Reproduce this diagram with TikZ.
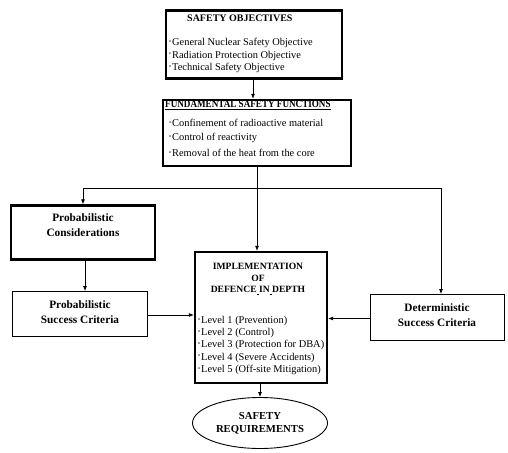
\documentclass[tikz,border=0pt]{standalone}
\usepackage{fontspec}
\setmainfont{Liberation Serif}
\usetikzlibrary{arrows.meta,shapes.geometric}
\newcommand\bul{\raisebox{0.05ex}{\scalebox{1.15}{·}}}
\begin{document}
\begin{tikzpicture}[x=1pt,y=-1pt,
  box/.style={draw,rectangle,inner sep=0pt},
  heavy/.style={line width=2.3pt},
  light/.style={line width=0.9pt},
  txt/.style={font=\fontsize{10.4}{12}\selectfont,inner sep=0pt,anchor=west},
  ttl/.style={font=\fontsize{10}{12}\selectfont\bfseries,inner sep=0pt},
  ctr/.style={font=\fontsize{11.3}{15}\selectfont\bfseries,inner sep=0pt,align=center},
  arr/.style={-{Latex[length=5pt,width=4pt]},line width=0.8pt},
  ln/.style={line width=0.8pt}]
\useasboundingbox (0,0) rectangle (508,452);
% boxes
\node[box,heavy,minimum width=176,minimum height=68] (so) at (254,44.5) {};
\node[box,heavy,minimum width=188,minimum height=66] (fsf) at (257,133) {};
\node[box,heavy,minimum width=144,minimum height=54] (pc) at (83,232.5) {};
\node[box,light,minimum width=135,minimum height=45] (psc) at (80,314) {};
\node[box,heavy,minimum width=132,minimum height=131] (impl) at (261,317.5) {};
\node[box,light,minimum width=134,minimum height=46] (det) at (437,317.5) {};
\node[draw,ellipse,light,minimum width=135,minimum height=51,inner sep=0pt,
      font=\fontsize{10.7}{13}\selectfont\bfseries,align=center] (sr) at (260,423) {SAFETY\\REQUIREMENTS};
% texts
\node[ttl,anchor=west] (sot) at (187,18) {SAFETY OBJECTIVES};
\node[txt] (so1) at (168,43) {\bul General Nuclear Safety Objective};
\node[txt] (so2) at (168,55.5) {\bul Radiation Protection Objective};
\node[txt] (so3) at (168,68) {\bul Technical Safety Objective};
\node[ttl,anchor=west,font=\fontsize{10.6}{12}\selectfont\bfseries] (fsft) at (165,105) {\scalebox{0.86}[1]{\underline{FUNDAMENTAL SAFETY FUNCTIONS}}};
\node[txt] (f1) at (168,123) {\bul Confinement of radioactive material};
\node[txt] (f2) at (168,138) {\bul Control of reactivity};
\node[txt] (f3) at (168,153) {\bul Removal of the heat from the core};
\node[ctr] (pct) at (83,225) {Probabilistic\\Considerations};
\node[ctr] (psct) at (80,312) {Probabilistic\\Success Criteria};
\node[ctr] (dett) at (437,315) {Deterministic\\Success Criteria};
\node[font=\fontsize{9.6}{11.5}\selectfont\bfseries,inner sep=0pt,align=center] (implt) at (258,279)
  {IMPLEMENTATION\\OF\\DEFENCE\underline{\ }IN\underline{\ }DEPTH};
\node[txt] (l1) at (197,321) {\bul Level 1 (Prevention)};
\node[txt] (l2) at (197,333.2) {\bul Level 2 (Control)};
\node[txt] (l3) at (197,345.4) {\bul Level 3 (Protection for DBA)};
\node[txt] (l4) at (197,357.6) {\bul Level 4 (Severe Accidents)};
\node[txt] (l5) at (197,369.8) {\bul Level 5 (Off-site Mitigation)};
% connectors
\coordinate (j) at (257,188);
\draw[arr] ([xshift=-1pt]so.south) -- ([xshift=-1pt]so.south |- fsf.north);
\draw[arr] (fsf.south) -- (fsf.south |- impl.north);
\draw[arr] (j) -| (pc.north);
\draw[arr] (j) -| ([xshift=4pt]det.north);
\draw[arr] ([xshift=2pt]pc.south) -- ([xshift=2pt]pc.south |- psc.north);
\draw[arr] ([yshift=-1pt]psc.east) -- ([yshift=-1pt]psc.east -| impl.west);
\draw[arr] ([yshift=-1pt]det.west) -- ([yshift=-1pt]det.west -| impl.east);
\draw[arr] ([xshift=-1pt]impl.south) -- ([xshift=-1pt]impl.south |- sr.north);
\end{tikzpicture}
\end{document}
